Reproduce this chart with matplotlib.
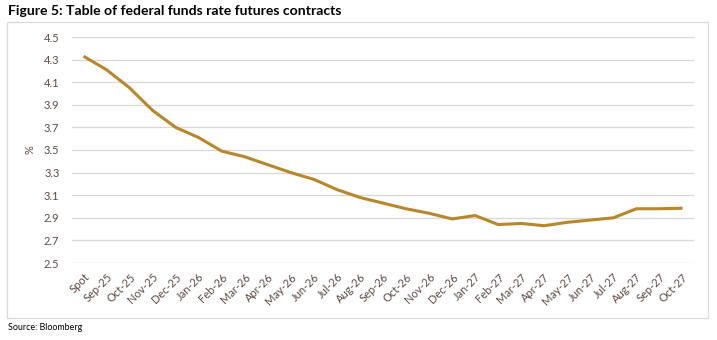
import matplotlib
matplotlib.use("Agg")
import matplotlib.pyplot as plt
from matplotlib.patches import Rectangle

categories = ["Spot", "Sep-25", "Oct-25", "Nov-25", "Dec-25", "Jan-26", "Feb-26", "Mar-26",
              "Apr-26", "May-26", "Jun-26", "Jul-26", "Aug-26", "Sep-26", "Oct-26", "Nov-26",
              "Dec-26", "Jan-27", "Feb-27", "Mar-27", "Apr-27", "May-27", "Jun-27", "Jul-27",
              "Aug-27", "Sep-27", "Oct-27"]
rates = [4.33, 4.21, 4.05, 3.85, 3.70, 3.61, 3.49, 3.44, 3.37, 3.30, 3.24, 3.15, 3.08, 3.03,
         2.98, 2.94, 2.89, 2.92, 2.84, 2.85, 2.83, 2.86, 2.88, 2.90, 2.98, 2.98, 2.985]
yticks = [2.5, 2.7, 2.9, 3.1, 3.3, 3.5, 3.7, 3.9, 4.1, 4.3, 4.5]

plt.rcParams['font.family'] = ['Lato', 'DejaVu Sans']
W, H = 717, 340
fig = plt.figure(figsize=(W / 100, H / 100), dpi=100)

# outer frame
fig.patches.append(Rectangle((7 / W, 1 - 318 / H), (708 - 7) / W, (318 - 22) / H,
                             transform=fig.transFigure, fill=False, edgecolor="#D9D9D9", lw=0.9))

ax = fig.add_axes([72 / W, 1 - 263 / H, (694 - 72) / W, (263 - 37) / H])
x = list(range(len(categories)))
ax.plot(x, rates, color="#B8862B", lw=2.2, solid_capstyle="butt", zorder=3)
ax.set_xlim(-0.5, len(categories) - 0.5)
ax.set_ylim(2.5, 4.5)
ax.set_yticks(yticks)
ax.set_yticklabels([f"{v:.1f}" for v in yticks])
ax.set_xticks(x)
ax.set_xticklabels(categories, rotation=45, ha="right", rotation_mode="anchor")
ax.tick_params(axis="both", length=0, colors="#5B4A44", labelsize=8)
ax.tick_params(axis="y", pad=9)
ax.tick_params(axis="x", pad=6)
ax.grid(axis="y", color="#DCD6D6", lw=0.9)
ax.set_axisbelow(True)
for s in ax.spines.values():
    s.set_visible(False)
ax.set_ylabel("%", color="#5B4A44", fontsize=8, labelpad=6)

fig.text(8 / W, 1 - 11 / H, "Figure 5: Table of federal funds rate futures contracts",
         fontsize=10.1, fontweight="bold", va="center", ha="left", color="black")
fig.text(8 / W, 1 - 327 / H, "Source: Bloomberg", fontsize=6.4, va="center", ha="left", color="black")

fig.savefig("out.png", dpi=100)
